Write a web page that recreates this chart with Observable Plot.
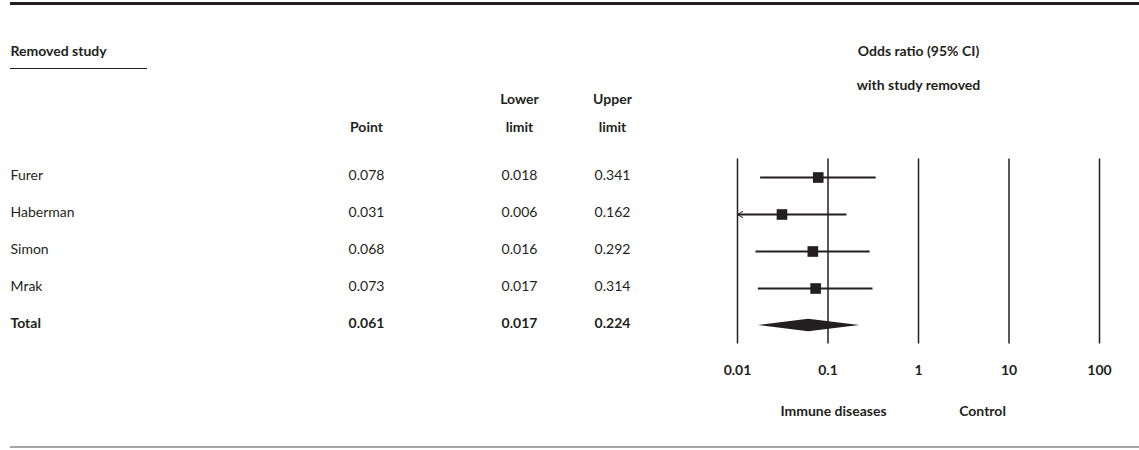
<!DOCTYPE html>
<html>
<head>
<meta charset="utf-8">
<script src="https://cdn.jsdelivr.net/npm/d3@7"></script>
<script src="https://cdn.jsdelivr.net/npm/@observablehq/plot@0.6"></script>
<style>
  body { margin: 0; background: #fff; }
  #chart { position: relative; width: 1139px; height: 450px; font-family: Lato, "Open Sans", sans-serif; color: #231f20; }
  #chart svg { position: absolute; left: 0; top: 0; }
  .rule { position: absolute; }
</style>
</head>
<body>
<div id="chart">
  <div class="rule" style="left:10px;top:2px;width:1129px;height:3px;background:#231f20"></div>
  <div class="rule" style="left:10px;top:68px;width:137px;height:1px;background:#231f20"></div>
  <div class="rule" style="left:10px;top:446px;width:1129px;height:2px;background:#a6a6a6"></div>
</div>
<script>
// ---- data ----
const studies   = ["Furer", "Haberman", "Simon", "Mrak", "Total"];
const pointEst  = [0.078, 0.031, 0.068, 0.073, 0.061];
const lowerLim  = [0.018, 0.006, 0.016, 0.017, 0.017];
const upperLim  = [0.341, 0.162, 0.292, 0.314, 0.224];
const columnHeaders = ["Point", "Lower\nlimit", "Upper\nlimit"];
const xTicks     = [0.01, 0.1, 1, 10, 100];
const tickLabels = ["0.01", "0.1", "1", "10", "100"];
const sideLabels  = ["Immune diseases", "Control"];
const sideAnchors = [0.115, 5.1];   // odds-ratio positions of the side labels
const plotTitle    = "Odds ratio (95% CI)";
const plotSubtitle = "with study removed";
const tableTitle   = "Removed study";

const ink = "#231f20";
const fmt = d3.format(".3f");
const xMin = xTicks[0];

const rows = studies.map((s, i) => ({
  i, study: s, point: pointEst[i], lower: lowerLim[i], upper: upperLim[i], total: s === "Total"
}));
const cells = rows.flatMap(r => [
  {row: r.i, col: 0, text: r.study, total: r.total},
  {row: r.i, col: 1, text: fmt(r.point), total: r.total},
  {row: r.i, col: 2, text: fmt(r.lower), total: r.total},
  {row: r.i, col: 3, text: fmt(r.upper), total: r.total}
]);
const headerCells = columnHeaders.map((t, k) => ({col: k + 1, text: t}));

const yScale = {domain: [0, studies.length - 1], range: [177, 325], axis: null};
const baseStyle = {background: "none", overflow: "visible", fontFamily: "Lato, 'Open Sans', sans-serif", fontSize: "14px", color: ink};

// ---- table ----
const table = Plot.plot({
  width: 1139, height: 450, margin: 0,
  style: baseStyle,
  x: {type: "linear", domain: [0, 1, 2, 3], range: [10, 366, 519, 612], axis: null},
  y: yScale,
  marks: [
    Plot.text([tableTitle], {x: () => 0, text: d => d, frameAnchor: "top", textAnchor: "start", lineAnchor: "bottom", dy: 55, fontWeight: "bold", fill: ink}),
    Plot.text(headerCells, {x: "col", text: "text", frameAnchor: "top", textAnchor: "middle", lineAnchor: "bottom", lineHeight: 2, dy: 131, fontWeight: "bold", fill: ink}),
    Plot.text(cells.filter(d => !d.total && d.col === 0), {x: "col", y: "row", text: "text", textAnchor: "start", lineAnchor: "bottom", dy: 2, fill: ink}),
    Plot.text(cells.filter(d => !d.total && d.col > 0), {x: "col", y: "row", text: "text", textAnchor: "middle", lineAnchor: "bottom", dy: 2, fill: ink}),
    Plot.text(cells.filter(d => d.total && d.col === 0), {x: "col", y: "row", text: "text", textAnchor: "start", lineAnchor: "bottom", dy: 2, fontWeight: "bold", fill: ink}),
    Plot.text(cells.filter(d => d.total && d.col > 0), {x: "col", y: "row", text: "text", textAnchor: "middle", lineAnchor: "bottom", dy: 2, fontWeight: "bold", fill: ink})
  ]
});

// ---- forest plot ----
const studyRows = rows.filter(r => !r.total);
const totalRow = rows.find(r => r.total);
const dh = 0.17;
const diamond = [
  {x: totalRow.lower, y1: totalRow.i, y2: totalRow.i},
  {x: totalRow.point, y1: totalRow.i - dh, y2: totalRow.i + dh},
  {x: totalRow.upper, y1: totalRow.i, y2: totalRow.i}
];

const forest = Plot.plot({
  width: 1139, height: 450, marginTop: 0, marginLeft: 0, marginRight: 0, marginBottom: 107,
  style: baseStyle,
  x: {type: "log", domain: [xTicks[0], xTicks[xTicks.length - 1]], range: [737, 1099]},
  y: yScale,
  marks: [
    Plot.ruleX(xTicks, {x: d => d, y1: -0.5, y2: studies.length - 0.5, stroke: ink, strokeWidth: 1.5}),
    Plot.axisX(xTicks, {tickSize: 0, tickPadding: 22, tickFormat: d => tickLabels[xTicks.indexOf(d)], fontWeight: "bold", fontSize: 14, fill: ink, label: null}),
    Plot.ruleY(studyRows, {y: "i", x1: d => Math.max(d.lower, xMin), x2: "upper", stroke: ink, strokeWidth: 2.2}),
    Plot.arrow(studyRows.filter(d => d.lower < xMin), {x1: "point", y1: "i", x2: () => xMin, y2: "i", stroke: ink, strokeWidth: 1, headLength: 9}),
    Plot.dot(studyRows, {x: "point", y: "i", symbol: "square", r: 6, fill: ink}),
    Plot.areaY(diamond, {x: "x", y1: "y1", y2: "y2", fill: ink}),
    Plot.text([plotTitle], {x: () => 1, text: d => d, frameAnchor: "top", textAnchor: "middle", lineAnchor: "bottom", dy: 55, fontWeight: "bold", fill: ink}),
    Plot.text([plotSubtitle], {x: () => 1, text: d => d, frameAnchor: "top", textAnchor: "middle", lineAnchor: "bottom", dy: 89, fontWeight: "bold", fill: ink}),
    Plot.text(sideLabels, {x: (d, i) => sideAnchors[i], text: d => d, frameAnchor: "top", textAnchor: "middle", lineAnchor: "bottom", dy: 415, fontWeight: "bold", fill: ink})
  ]
});

const chart = document.getElementById("chart");
chart.appendChild(table);
chart.appendChild(forest);
</script>
</body>
</html>
